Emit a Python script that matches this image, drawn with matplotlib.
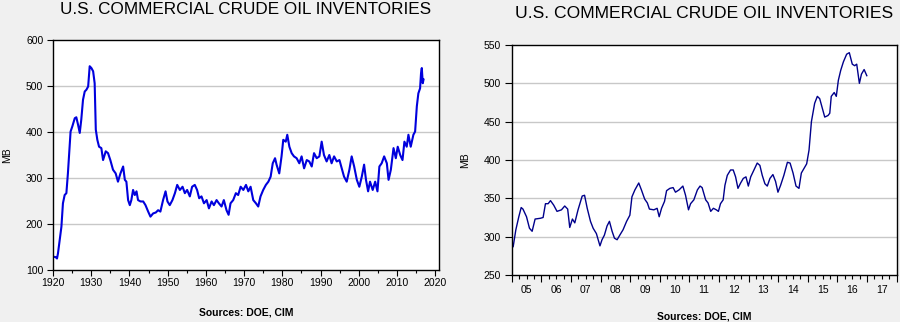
import numpy as np
import matplotlib
matplotlib.use("Agg")
import matplotlib.pyplot as plt
from matplotlib.ticker import MultipleLocator, FuncFormatter

plt.rcParams['font.family'] = ['Liberation Sans', 'DejaVu Sans']

# long history, 1920-2016 (million barrels)
hist_years = [
    1920.0, 1920.7, 1921.05, 1921.3, 1921.75, 1922.2, 1922.6, 1923.05, 1923.5, 1923.9,
    1924.35, 1924.6, 1925.05, 1925.7, 1926.1, 1926.55, 1927.0, 1927.4, 1927.85, 1928.3,
    1928.75, 1929.2, 1929.6, 1930.05, 1930.5, 1930.9, 1931.2, 1931.6, 1932.05, 1932.65,
    1933.1, 1933.8, 1934.4, 1935.0, 1935.7, 1936.4, 1937.0, 1937.65, 1938.35, 1938.8,
    1939.2, 1939.65, 1940.1, 1940.5, 1940.95, 1941.4, 1941.85, 1942.25, 1942.9, 1943.6,
    1944.2, 1944.9, 1945.5, 1946.2, 1946.9, 1947.5, 1948.1, 1948.8, 1949.45, 1949.95,
    1950.55, 1951.25, 1951.9, 1952.5, 1953.2, 1953.9, 1954.5, 1955.1, 1955.8, 1956.4,
    1957.1, 1957.7, 1958.25, 1958.85, 1959.5, 1960.2, 1960.8, 1961.5, 1962.1, 1962.8,
    1963.4, 1964.1, 1964.7, 1965.4, 1965.95, 1966.45, 1967.15, 1967.85, 1968.45, 1969.1,
    1969.8, 1970.5, 1971.1, 1971.7, 1972.4, 1973.1, 1973.7, 1974.3, 1975.0, 1975.7,
    1976.35, 1976.95, 1977.5, 1978.1, 1978.5, 1979.2, 1979.8, 1980.25, 1980.9, 1981.3,
    1981.85, 1982.45, 1983.05, 1983.75, 1984.45, 1985.05, 1985.7, 1986.4, 1987.05, 1987.7,
    1988.3, 1989.0, 1989.7, 1990.3, 1990.9, 1991.6, 1992.3, 1992.9, 1993.55, 1994.25,
    1994.95, 1995.55, 1996.15, 1996.85, 1997.55, 1998.15, 1998.8, 1999.5, 2000.15, 2000.8,
    2001.4, 2001.9, 2002.45, 2002.95, 2003.65, 2004.3, 2004.9, 2005.4, 2006.0, 2006.65,
    2007.35, 2007.8, 2008.4, 2009.1, 2009.7, 2010.2, 2010.85, 2011.45, 2011.95, 2012.55,
    2013.0, 2013.6, 2014.3, 2014.75, 2015.2, 2015.6, 2016.05, 2016.3, 2016.5, 2016.75,
    2016.95,
]
hist_stocks = [
    129, 128, 125, 136, 165, 194, 245, 263, 267, 310,
    368, 401, 412, 430, 432, 416, 398, 427, 470, 488,
    492, 499, 543, 539, 532, 506, 405, 383, 368, 365,
    339, 358, 354, 339, 318, 310, 292, 310, 325, 296,
    292, 252, 241, 252, 274, 263, 271, 252, 249, 249,
    241, 227, 216, 223, 225, 230, 227, 252, 271, 249,
    241, 252, 267, 285, 274, 281, 267, 274, 260, 281,
    285, 274, 256, 260, 245, 252, 234, 249, 241, 252,
    245, 238, 252, 230, 220, 245, 252, 267, 263, 281,
    274, 285, 271, 281, 252, 245, 238, 260, 274, 285,
    292, 303, 332, 343, 329, 310, 347, 383, 379, 394,
    368, 354, 347, 343, 332, 347, 321, 339, 336, 325,
    354, 343, 347, 379, 350, 336, 350, 332, 347, 336,
    339, 321, 303, 292, 318, 347, 325, 296, 281, 303,
    329, 296, 271, 292, 274, 292, 271, 325, 332, 347,
    332, 296, 318, 365, 343, 368, 350, 339, 379, 368,
    394, 368, 394, 401, 456, 484, 495, 528, 539, 506,
    514,
]

# recent readings, 2005-2016 (million barrels)
recent_years = [
    2005.05, 2005.14, 2005.24, 2005.32, 2005.38, 2005.50, 2005.60, 2005.69, 2005.79, 2005.97,
    2006.06, 2006.14, 2006.23, 2006.31, 2006.42, 2006.53, 2006.68, 2006.79, 2006.89, 2006.96,
    2007.05, 2007.13, 2007.24, 2007.38, 2007.46, 2007.55, 2007.66, 2007.75, 2007.86, 2007.98,
    2008.05, 2008.13, 2008.22, 2008.30, 2008.39, 2008.47, 2008.56, 2008.65, 2008.76, 2008.88,
    2008.99, 2009.06, 2009.16, 2009.29, 2009.38, 2009.49, 2009.58, 2009.65, 2009.80, 2009.91,
    2009.98, 2010.06, 2010.16, 2010.23, 2010.34, 2010.45, 2010.53, 2010.65, 2010.78, 2010.87,
    2010.97, 2011.04, 2011.15, 2011.27, 2011.36, 2011.43, 2011.55, 2011.63, 2011.72, 2011.81,
    2011.91, 2011.98, 2012.05, 2012.14, 2012.20, 2012.28, 2012.39, 2012.48, 2012.56, 2012.64,
    2012.73, 2012.82, 2012.91, 2012.99, 2013.07, 2013.18, 2013.29, 2013.38, 2013.46, 2013.55,
    2013.63, 2013.72, 2013.82, 2013.91, 2013.99, 2014.08, 2014.19, 2014.31, 2014.40, 2014.50,
    2014.60, 2014.70, 2014.78, 2014.87, 2014.96, 2015.04, 2015.12, 2015.23, 2015.32, 2015.40,
    2015.47, 2015.57, 2015.68, 2015.74, 2015.79, 2015.89, 2015.96, 2016.03, 2016.11, 2016.20,
    2016.31, 2016.40, 2016.50, 2016.58, 2016.65, 2016.74, 2016.81, 2016.90, 2016.99,
]
recent_stocks = [
    287, 309, 326, 338, 336, 326, 311, 307, 323, 324,
    325, 343, 343, 347, 341, 333, 335, 340, 336, 312,
    323, 318, 335, 353, 354, 337, 320, 311, 304, 288,
    296, 302, 314, 320, 307, 298, 296, 302, 309, 320,
    328, 352, 361, 370, 361, 349, 344, 336, 335, 337,
    326, 337, 346, 360, 363, 364, 358, 361, 366, 354,
    335, 343, 348, 361, 366, 364, 348, 344, 333, 337,
    335, 333, 343, 348, 367, 380, 387, 387, 378, 363,
    370, 376, 378, 366, 378, 387, 396, 393, 380, 369,
    366, 376, 381, 372, 358, 367, 380, 397, 396, 383,
    366, 363, 383, 389, 395, 413, 450, 474, 483, 480,
    470, 456, 458, 461, 483, 488, 483, 504, 517, 528,
    538, 540, 525, 523, 525, 500, 512, 518, 510,
]

bg = '#f0f0f0'
grid_col = '#c8c8c8'
title = 'U.S. COMMERCIAL CRUDE OIL INVENTORIES'

fig = plt.figure(figsize=(9, 3.22), dpi=100, facecolor=bg)

# ---- left: full history
ax1 = fig.add_axes([53 / 900, 1 - 270 / 322, 386 / 900, 230 / 322])
ax1.plot(hist_years, hist_stocks, color='#0000dd', lw=1.5)
ax1.set_xlim(1920, 2021)
ax1.set_ylim(100, 600)
ax1.xaxis.set_major_locator(MultipleLocator(10))
ax1.xaxis.set_minor_locator(MultipleLocator(5))
ax1.yaxis.set_major_locator(MultipleLocator(100))
ax1.xaxis.set_major_formatter(FuncFormatter(lambda v, p: f'{int(round(v))}'))
for y in [200, 300, 400, 500]:
    ax1.axhline(y, color=grid_col, lw=1, zorder=0)
ax1.tick_params(axis='both', which='major', length=4, width=0.8, labelsize=7.5, pad=2)
ax1.tick_params(axis='x', which='minor', length=2, width=0.8)
ax1.tick_params(axis='y', pad=3)
ax1.set_ylabel('MB', fontsize=7.5)
ax1.yaxis.set_label_coords(-0.107, 0.5)
ax1.text(0.5, -0.185, 'Sources: DOE, CIM', transform=ax1.transAxes, ha='center',
         va='center', fontsize=7.5, fontweight='bold')
fig.text(246 / 900, 1 - 9 / 322, title, ha='center', va='center', fontsize=12.3)

# ---- right: 2005 onwards
ax2 = fig.add_axes([511.7 / 900, 1 - 275 / 322, 385 / 900, 230 / 322])
ax2.plot(recent_years, recent_stocks, color='#00008b', lw=1.0)
ax2.set_xlim(2005, 2018)
ax2.set_ylim(250, 550)
ax2.xaxis.set_major_locator(MultipleLocator(1))
ax2.xaxis.set_minor_locator(MultipleLocator(0.25))
ax2.yaxis.set_major_locator(MultipleLocator(50))
ax2.xaxis.set_major_formatter(FuncFormatter(lambda v, p: ''))
ax2.xaxis.set_minor_formatter(
    FuncFormatter(lambda v, p: f'{int(v) % 100:02d}' if abs(v % 1 - 0.5) < 0.01 else ''))
for y in [300, 350, 400, 450, 500]:
    ax2.axhline(y, color=grid_col, lw=1, zorder=0)
ax2.tick_params(axis='both', which='major', length=5, width=0.8, labelsize=7.5)
ax2.tick_params(axis='x', which='minor', length=3, width=0.8, labelsize=7.5, pad=4)
ax2.tick_params(axis='y', pad=3)
ax2.set_ylabel('MB', fontsize=7.5)
ax2.yaxis.set_label_coords(-0.109, 0.5)
ax2.text(0.5, -0.18, 'Sources: DOE, CIM', transform=ax2.transAxes, ha='center',
         va='center', fontsize=7.5, fontweight='bold')
fig.text(704 / 900, 1 - 13 / 322, title, ha='center', va='center', fontsize=12.6)

for ax in (ax1, ax2):
    ax.set_facecolor('white')
    for s in ax.spines.values():
        s.set_linewidth(1.0)
        s.set_color('black')

fig.savefig('out.png', dpi=100, facecolor=bg)
